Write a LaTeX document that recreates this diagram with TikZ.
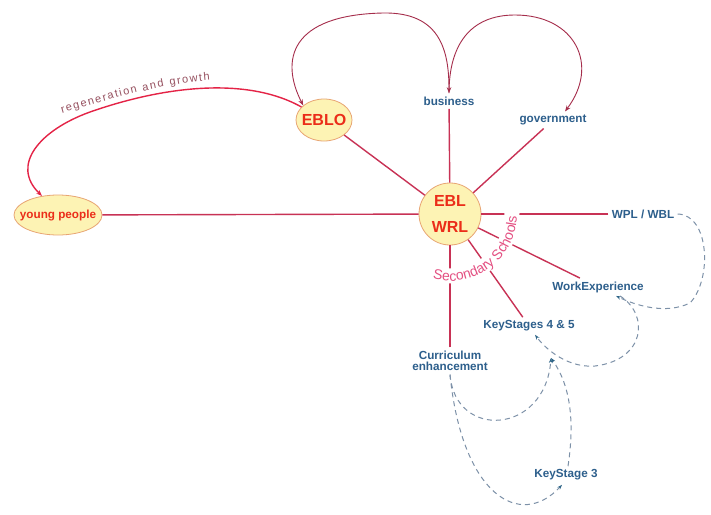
\documentclass[tikz,border=0pt]{standalone}
\usepackage{fontspec}
\setmainfont{Liberation Sans}
\usetikzlibrary{arrows.meta,shapes.geometric,decorations.text}
\definecolor{spokec}{RGB}{200,50,85}
\definecolor{regenc}{RGB}{228,35,70}
\definecolor{topc}{RGB}{165,45,75}
\definecolor{dashcol}{RGB}{125,145,168}
\definecolor{tipc}{RGB}{45,100,135}
\definecolor{bluetext}{RGB}{45,95,140}
\definecolor{redtext}{RGB}{235,45,25}
\definecolor{ellfill}{RGB}{253,243,180}
\definecolor{elldraw}{RGB}{232,165,115}
\definecolor{pinktext}{RGB}{228,80,130}
\definecolor{regtext}{RGB}{150,80,95}
\begin{document}
\begin{tikzpicture}[x=1pt,y=-1pt,
  ellnode/.style={ellipse, draw=elldraw, fill=ellfill, line width=0.8pt, inner sep=0pt, text=redtext},
  lab/.style={font=\fontsize{11.7}{11.5}\selectfont\bfseries, text=bluetext, inner sep=1.5pt, outer sep=2pt},
  spokeline/.style={draw=spokec, line width=1.4pt},
  topline/.style={draw=topc, line width=0.9pt},
  regenline/.style={draw=regenc, line width=1.4pt},
  dashline/.style={draw=dashcol, line width=1pt, dash pattern=on 5pt off 4pt},
  tipr/.tip={Stealth[length=6pt,width=4.5pt]},
  tipd/.tip={Stealth[length=5pt,width=3.5pt,color=tipc]}
]
\useasboundingbox (0,0) rectangle (711,514);
\fill[white] (0,0) rectangle (711,514);

% nodes
\node[ellnode, minimum width=88pt, minimum height=40pt, font=\fontsize{11.7}{12}\selectfont\bfseries] (yp) at (58,215) {\makebox[0pt]{young people}};
\node[ellnode, minimum width=56pt, minimum height=42pt, font=\fontsize{16}{18}\selectfont\bfseries] (eblo) at (324,120) {\makebox[0pt]{EBLO}};
\node[circle, draw=elldraw, fill=ellfill, line width=0.8pt, minimum size=62pt, inner sep=0pt, align=center, text=redtext, font=\fontsize{16}{26}\selectfont\bfseries] (ctr) at (450,214) {EBL\\WRL};
\node[lab] (bus) at (449,101) {business};
\node[lab] (gov) at (553,120) {government};
\node[lab] (wpl) at (643,214) {WPL / WBL};
\node[lab] (wexp) at (598,287) {WorkExperience};
\node[lab] (ks45) at (529,326) {KeyStages 4 \& 5};
\node[lab, align=center] (cur) at (450,361) {Curriculum\\enhancement};
\node[lab] (ks3) at (566,475) {KeyStage 3};
\coordinate (ks45in) at (551,358);

% spokes
\foreach \n in {yp,eblo,bus,gov,wpl,wexp,ks45,cur}
  \draw[spokeline] (\n) -- (ctr);

% gap band and curved label
\draw[white, line width=15pt] ([shift={(107:62)}]ctr.center) arc[start angle=107, end angle=-4, radius=62];
\path[decorate, decoration={text along path, text align=left, text color=pinktext,
  text={|\fontsize{14}{14}\selectfont|Secondary Schools}}]
  ([shift={(105:67)}]ctr.center) arc[start angle=105, end angle=-5, radius=67];

% top curves
\draw[topline, tipr-tipr] (eblo.145) .. controls (280,60) and (290,15) .. (383,13)
  .. controls (440,12) and (449,50) .. (bus.north);
\draw[topline, -tipr] (bus.north) .. controls (449,45) and (470,15) .. (515,15)
  .. controls (575,15) and (600,65) .. ([xshift=12pt]gov.north);

% regeneration and growth
\draw[regenline, -tipr] (eblo.150) .. controls (250,78) and (170,84) .. (90,112)
  .. controls (40,130) and (10,165) .. (yp.130);
\path[decorate, decoration={text along path, text align={fit to path}, text color=regtext,
  text={|\fontsize{11}{11}\selectfont|regeneration and growth}}]
  (62,113) .. controls (120,96) and (165,84) .. (210,80);

% dashed connectors
\draw[dashline, -tipd] (wpl.east) .. controls (710,215) and (712,280) .. (690,303)
  .. controls (665,315) and (635,305) .. ([xshift=18pt]wexp.south);
\draw[dashline, -tipd] ([xshift=22pt]wexp.south) .. controls (650,315) and (645,360) .. (595,366)
  .. controls (570,368) and (548,352) .. ([xshift=6pt]ks45.south);
\draw[dashline, -tipd] (cur.south) .. controls (455,440) and (545,435) .. (ks45in);
\draw[dashline, -tipd] (cur.south) .. controls (462,495) and (520,530) .. ([xshift=-4pt,yshift=-1pt]ks3.south);
\draw[dashline, -tipd] ([xshift=2pt]ks3.north) .. controls (575,420) and (570,385) .. (ks45in);
\end{tikzpicture}
\end{document}
